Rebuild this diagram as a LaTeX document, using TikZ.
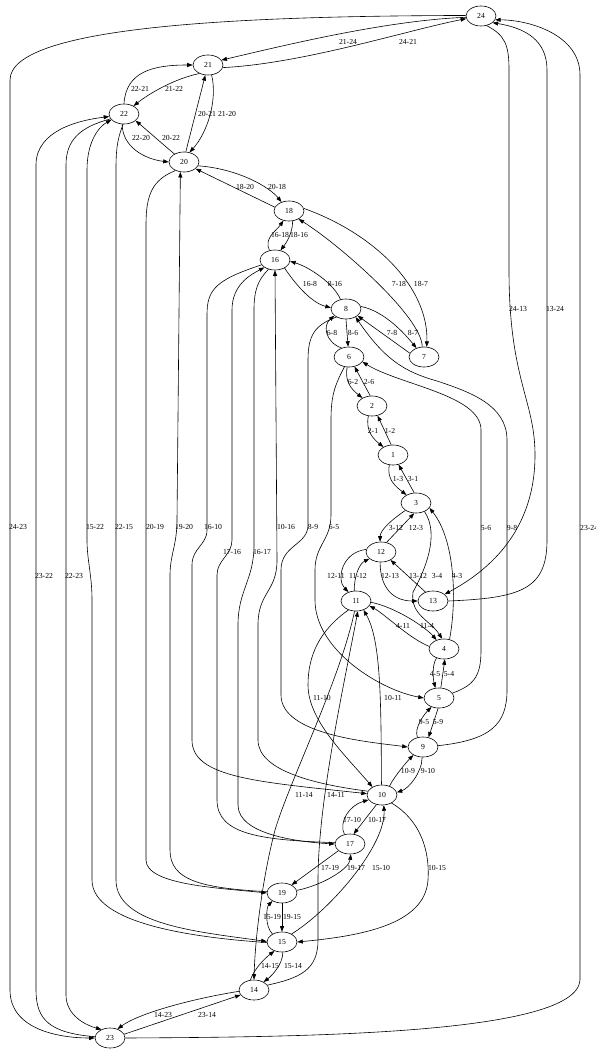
\documentclass[tikz,border=0pt]{standalone}
\usepackage{fontspec}
\setmainfont{Liberation Serif}
\usetikzlibrary{shapes.geometric,arrows.meta}
\begin{document}
\begin{tikzpicture}[x=1pt,y=-1pt,
  nd/.style={ellipse,draw,line width=0.6pt,minimum width=30pt,minimum height=20pt,inner sep=0pt,font=\fontsize{7.7}{9}\selectfont},
  e/.style={line width=0.6pt,-{Triangle[length=5.5pt,width=4pt]}},
  lab/.style={inner sep=0pt,font=\fontsize{7.7}{9}\selectfont}]
\fill[white] (0,0) rectangle (595,1051);
\useasboundingbox (0,0) rectangle (595,1051);
% nodes
\node[nd] (n24) at (481,16) {24};
\node[nd] (n21) at (208,65) {21};
\node[nd] (n22) at (124,114) {22};
\node[nd] (n20) at (184,162) {20};
\node[nd] (n18) at (289,211) {18};
\node[nd] (n16) at (275,260) {16};
\node[nd] (n8) at (346,309) {8};
\node[nd] (n7) at (424,357) {7};
\node[nd] (n6) at (349,357) {6};
\node[nd] (n2) at (372,406) {2};
\node[nd] (n1) at (393,455) {1};
\node[nd] (n3) at (416,503) {3};
\node[nd] (n12) at (381,552) {12};
\node[nd] (n11) at (356,601) {11};
\node[nd] (n13) at (433,601) {13};
\node[nd] (n4) at (444,649) {4};
\node[nd] (n5) at (439,698) {5};
\node[nd] (n9) at (423,747) {9};
\node[nd] (n10) at (382,795) {10};
\node[nd] (n17) at (350,844) {17};
\node[nd] (n19) at (282,893) {19};
\node[nd] (n15) at (282,942) {15};
\node[nd] (n14) at (254,990) {14};
\node[nd] (n23) at (110,1038) {23};
% edges
\draw[e] (n24.185) .. controls +(-80,3) and +(60,-14) .. (n21.20);
\draw[e] (n21.350) .. controls +(80,-4) and +(-60,12) .. (n24.190);
\draw[e] (n22.90) .. controls +(2,-32) and +(-40,0) .. (n21.180);
\draw[e] (n21.225) .. controls +(-25,5) and +(15,-12) .. (n22.40);
\draw[e] (n20.80) -- (n21.255);
\draw[e] (n21.290) .. controls +(6,25) and +(18,-20) .. (n20.60);
\draw[e] (n22.260) .. controls +(0,22) and +(-25,-3) .. (n20.180);
\draw[e] (n20.140) .. controls +(-12,-10) and +(12,10) .. (n22.330);
\draw[e] (n20.345) .. controls +(40,3) and +(-12,-15) .. (n18.130);
\draw[e] (n18.165) -- (n20.330);
\draw[e] (n16.120) .. controls +(-6,-12) and +(-7,10) .. (n18.240);
\draw[e] (n18.290) .. controls +(0,12) and +(6,-8) .. (n16.60);
\draw[e] (n16.320) .. controls +(10,15) and +(-20,-5) .. (n8.175);
\draw[e] (n8.120) .. controls +(-6,-15) and +(20,6) .. (n16.355);
\draw[e] (n7.100) .. controls +(0,-30) and +(40,25) .. (n18.320);
\draw[e] (n18.10) .. controls +(70,25) and +(2,-60) .. (n7.75);
\draw[e] (n6.130) .. controls +(-16,-6) and +(-12,10) .. (n8.210);
\draw[e] (n8.270) -- (n6.95);
\draw[e] (n7.165) -- (n8.330);
\draw[e] (n8.10) .. controls +(25,5) and +(-10,-12) .. (n7.130);
\draw[e] (n6.260) .. controls +(-3,15) and +(-10,-8) .. (n2.140);
\draw[e] (n2.100) -- (n6.300);
\draw[e] (n2.250) .. controls +(-3,15) and +(-10,-8) .. (n1.140);
\draw[e] (n1.100) -- (n2.300);
\draw[e] (n1.250) .. controls +(-3,15) and +(-10,-8) .. (n3.140);
\draw[e] (n3.100) -- (n1.300);
\draw[e] (n3.215) .. controls +(-12,8) and +(0,-12) .. (n12.95);
\draw[e] (n12.60) -- (n3.260);
\draw[e] (n3.315) .. controls (440,535) and (425,570) .. (413,592) .. controls (410,615) and (430,620) .. (n4.100);
\draw[e] (n4.60) .. controls (457,600) and (455,540) .. (n3.340);
\draw[e] (n12.170) .. controls +(-25,3) and +(-12,-12) .. (n11.130);
\draw[e] (n11.100) .. controls +(0,-15) and +(-10,5) .. (n12.210);
\draw[e] (n12.265) .. controls +(0,25) and +(-25,0) .. (n13.180);
\draw[e] (n13.130) -- (n12.320);
\draw[e] (n4.170) .. controls +(-20,-8) and +(15,8) .. (n11.340);
\draw[e] (n11.355) .. controls +(25,5) and +(-10,-12) .. (n4.130);
\draw[e] (n4.230) .. controls +(-5,8) and +(-2,-8) .. (n5.110);
\draw[e] (n5.80) -- (n4.275);
\draw[e] (n5.20) .. controls (475,685) and (481,675) .. (481,650) -- (481,430) .. controls (481,395) and (400,385) .. (n6.340);
\draw[e] (n6.245) .. controls (335,385) and (331,395) .. (331,420) -- (331,515) .. controls (331,540) and (315,545) .. (315,570) -- (315,600) .. controls (315,650) and (380,690) .. (n5.180);
\draw[e] (n8.220) .. controls (315,325) and (308,335) .. (308,360) -- (308,525) .. controls (308,545) and (281,545) .. (281,570) -- (281,695) .. controls (281,735) and (370,742) .. (n9.180);
\draw[e] (n9.5) .. controls (490,740) and (507,725) .. (507,690) -- (507,440) .. controls (507,405) and (470,392) .. (437,381) .. controls (405,372) and (385,360) .. (n8.320);
\draw[e] (n10.165) .. controls (320,785) and (258,772) .. (258,740) -- (258,625) .. controls (258,592) and (277,592) .. (277,560) -- (n16.270);
\draw[e] (n16.200) .. controls (215,280) and (207,290) .. (207,315) -- (207,530) .. controls (207,545) and (192,548) .. (192,565) -- (192,740) .. controls (192,778) and (260,782) .. (n10.175);
\draw[e] (n17.175) .. controls (262,840) and (217,835) .. (217,800) -- (217,575) .. controls (217,560) and (232,555) .. (232,540) -- (232,310) .. controls (232,285) and (250,275) .. (n16.215);
\draw[e] (n16.235) .. controls (258,280) and (254,290) .. (254,310) -- (254,545) .. controls (254,580) and (238,590) .. (238,625) -- (238,805) .. controls (238,835) and (300,842) .. (n17.180);
\draw[e] (n20.225) .. controls (152,180) and (146,195) .. (146,225) -- (146,860) .. controls (146,885) and (220,888) .. (n19.180);
\draw[e] (n19.175) .. controls (200,888) and (170,880) .. (170,850) -- (170,575) .. controls (170,555) and (177,545) .. (177,520) -- (n20.250);
\draw[e] (n22.265) .. controls (117,140) and (116,150) .. (116,170) -- (116,880) .. controls (116,925) and (200,932) .. (n15.178);
\draw[e] (n15.182) .. controls (200,938) and (92,925) .. (92,880) -- (92,600) .. controls (92,575) and (87,560) .. (87,540) -- (87,170) .. controls (87,140) and (100,126) .. (n22.205);
\draw[e] (n23.175) .. controls (50,1033) and (36,1020) .. (36,990) -- (36,165) .. controls (36,130) and (80,120) .. (n22.190);
\draw[e] (n22.200) .. controls (80,127) and (66,140) .. (66,165) -- (66,995) .. controls (66,1015) and (85,1025) .. (n23.135);
\draw[e] (n24.178) .. controls (250,16) and (10,25) .. (10,80) -- (10,990) .. controls (10,1030) and (60,1038) .. (n23.180);
\draw[e] (n23.0) .. controls (300,1037) and (577,1035) .. (580,980) -- (580,75) .. controls (580,35) and (530,20) .. (n24.345);
\draw[e] (n24.300) .. controls (505,35) and (509,45) .. (509,70) -- (509,270) .. controls (509,380) and (535,400) .. (535,455) .. controls (535,530) and (490,570) .. (n13.30);
\draw[e] (n13.0) .. controls (520,598) and (547,590) .. (547,540) -- (547,70) .. controls (547,40) and (525,28) .. (n24.330);
\draw[e] (n11.230) .. controls (320,630) and (308,655) .. (308,685) .. controls (308,720) and (345,755) .. (n10.140);
\draw[e] (n10.93) .. controls (381,700) and (381,640) .. (n11.310);
\draw[e] (n11.262) .. controls (340,680) and (290,780) .. (275,830) .. controls (262,880) and (255,940) .. (n14.90);
\draw[e] (n14.20) .. controls (300,978) and (318,970) .. (318,940) -- (318,880) .. controls (318,800) and (345,680) .. (n11.280);
\draw[e] (n17.120) .. controls (338,822) and (350,805) .. (n10.200);
\draw[e] (n10.240) -- (n17.70);
\draw[e] (n17.210) -- (n19.40);
\draw[e] (n19.10) .. controls +(25,-5) and +(-2,15) .. (n17.275);
\draw[e] (n15.40) .. controls +(40,-25) and +(2,40) .. (n10.280);
\draw[e] (n10.320) .. controls (420,820) and (430,850) .. (428,880) .. controls (425,925) and (360,936) .. (n15.0);
\draw[e] (n15.140) .. controls +(-8,-8) and +(-6,6) .. (n19.220);
\draw[e] (n19.270) -- (n15.90);
\draw[e] (n14.110) .. controls +(4,-12) and +(-8,6) .. (n15.230);
\draw[e] (n15.275) .. controls +(0,12) and +(8,-6) .. (n14.40);
\draw[e] (n14.185) .. controls +(-50,8) and +(20,-15) .. (n23.50);
\draw[e] (n23.15) -- (n14.200);
\draw[e] (n9.120) .. controls +(-4,-10) and +(-6,6) .. (n5.230);
\draw[e] (n5.265) -- (n9.60);
\draw[e] (n10.50) .. controls +(5,-10) and +(-6,6) .. (n9.220);
\draw[e] (n9.265) .. controls +(0,15) and +(12,-4) .. (n10.10);
% labels
\node[lab] (l2124) at (348,41.5) {21-24};
\node[lab] (l2421) at (408,41.5) {24-21};
\node[lab] (l2221) at (140,89) {22-21};
\node[lab] (l2122) at (174,89) {21-22};
\node[lab] (l2021) at (207,114) {20-21};
\node[lab] (l2120) at (227,114) {21-20};
\node[lab] (l2220) at (141,138) {22-20};
\node[lab] (l2022) at (171,138) {20-22};
\node[lab] (l1820) at (245,187) {18-20};
\node[lab] (l2018) at (277,187) {20-18};
\node[lab] (l1618) at (280,235) {16-18};
\node[lab] (l1816) at (299,235) {18-16};
\node[lab] (l168) at (310,284) {16-8};
\node[lab] (l816) at (335,284) {8-16};
\node[lab] (l718) at (399,284) {7-18};
\node[lab] (l187) at (421,284) {18-7};
\node[lab] (l2413) at (518,309) {24-13};
\node[lab] (l1324) at (555,309) {13-24};
\node[lab] (l68) at (332,333) {6-8};
\node[lab] (l86) at (353,333) {8-6};
\node[lab] (l78) at (392,333) {7-8};
\node[lab] (l87) at (413,333) {8-7};
\node[lab] (l62) at (353,382) {6-2};
\node[lab] (l26) at (369,382) {2-6};
\node[lab] (l21) at (373,431) {2-1};
\node[lab] (l12) at (390,431) {1-2};
\node[lab] (l13) at (398,479) {1-3};
\node[lab] (l31) at (413,479) {3-1};
\node[lab] (l2423) at (18,527) {24-23};
\node[lab] (l1522) at (95,527) {15-22};
\node[lab] (l2215) at (124,527) {22-15};
\node[lab] (l2019) at (155,527) {20-19};
\node[lab] (l1920) at (184,527) {19-20};
\node[lab] (l1610) at (213,527) {16-10};
\node[lab] (l1016) at (286,527) {10-16};
\node[lab] (l89) at (313,527) {8-9};
\node[lab] (l65) at (334,527) {6-5};
\node[lab] (l312) at (396,528) {3-12};
\node[lab] (l123) at (416,528) {12-3};
\node[lab] (l56) at (486,528) {5-6};
\node[lab] (l98) at (512,528) {9-8};
\node[lab,anchor=west] (l2324) at (580,528) {23-24};
\node[lab] (l1716) at (232,552) {17-16};
\node[lab] (l1617) at (262,552) {16-17};
\node[lab] (l2322) at (44,576) {23-22};
\node[lab] (l2223) at (74,576) {22-23};
\node[lab] (l1211) at (336,576) {12-11};
\node[lab] (l1112) at (358,576) {11-12};
\node[lab] (l1213) at (390,576) {12-13};
\node[lab] (l1312) at (418,576) {13-12};
\node[lab] (l34) at (437,576) {3-4};
\node[lab] (l43) at (457,576) {4-3};
\node[lab] (l411) at (403,626) {4-11};
\node[lab] (l114) at (427,626) {11-4};
\node[lab] (l45) at (435,674) {4-5};
\node[lab] (l54) at (449,674) {5-4};
\node[lab] (l1110) at (322,698) {11-10};
\node[lab] (l1011) at (393,698) {10-11};
\node[lab] (l95) at (424,722) {9-5};
\node[lab] (l59) at (438,722) {5-9};
\node[lab] (l109) at (408,771) {10-9};
\node[lab] (l910) at (428,771) {9-10};
\node[lab] (l1114) at (304,795) {11-14};
\node[lab] (l1411) at (336,795) {14-11};
\node[lab] (l1710) at (352,820) {17-10};
\node[lab] (l1017) at (377,820) {10-17};
\node[lab] (l1719) at (330,868) {17-19};
\node[lab] (l1917) at (356,868) {19-17};
\node[lab] (l1510) at (381,868) {15-10};
\node[lab] (l1015) at (437,868) {10-15};
\node[lab] (l1519) at (272,917) {15-19};
\node[lab] (l1915) at (292,917) {19-15};
\node[lab] (l1415) at (270,966) {14-15};
\node[lab] (l1514) at (293,966) {15-14};
\node[lab] (l1423) at (163,1015) {14-23};
\node[lab] (l2314) at (207,1015) {23-14};
\end{tikzpicture}
\end{document}
